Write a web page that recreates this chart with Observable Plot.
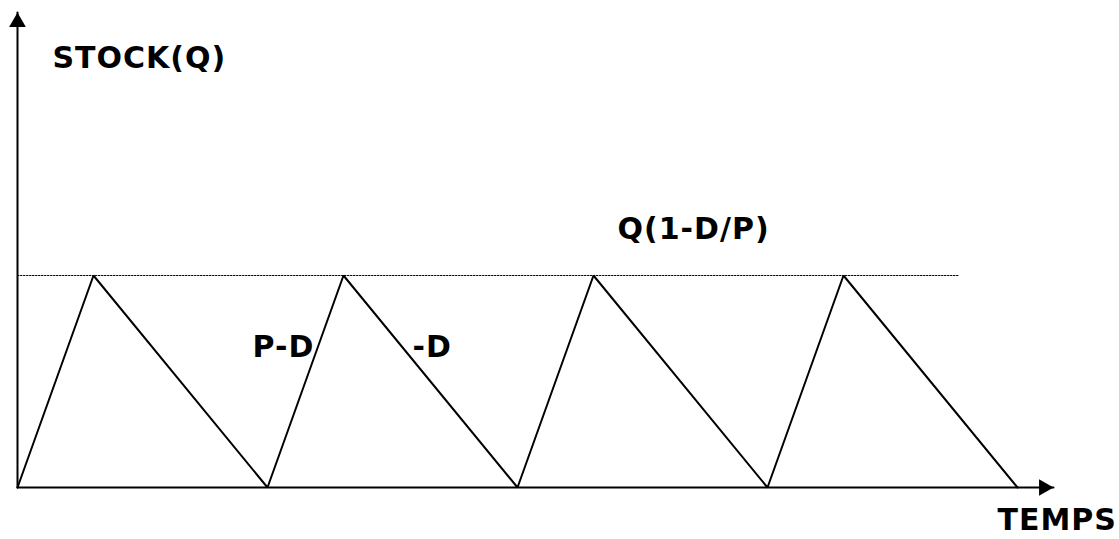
<!DOCTYPE html>
<html>
<head>
<meta charset="utf-8">
<script src="https://cdn.jsdelivr.net/npm/d3@7"></script>
<script src="https://cdn.jsdelivr.net/npm/@observablehq/plot@0.6"></script>
<style>
  html, body { margin: 0; padding: 0; background: #fff; }
  svg { display: block; }
  svg text { letter-spacing: 1px; }
</style>
</head>
<body>
<div id="chart"></div>
<script>
// Sawtooth stock profile (time in cycles, stock relative to Q(1-D/P))
const time  = [0, 0.304, 1, 1.304, 2, 2.304, 3, 3.304, 4];
const stock = [0, 1,     0, 1,     0, 1,     0, 1,     0];
// Max stock level (dotted reference)
const maxLevelTime = [0, 3.764];
const maxLevel = 1;
// Axis extents
const xAxisEnd = 4.144;
const yAxisEnd = 2.24;
// Labels
const labelText = ["STOCK(Q)", "TEMPS", "Q(1-D/P)", "P-D", "-D"];
const labelX    = [0.14, 3.92, 2.4, 0.94, 1.58];
const labelY    = [1.98, -0.2, 1.17, 0.614, 0.614];

const profile = time.map((t, i) => ({t, q: stock[i]}));
const labels = labelText.map((s, i) => ({s, x: labelX[i], y: labelY[i]}));

const chart = Plot.plot({
  width: 1119,
  height: 539,
  margin: 0,
  style: {background: "#fff", fontFamily: "Verdana, 'DejaVu Sans', sans-serif"},
  x: {domain: [0, 4], range: [17, 1017], axis: null},
  y: {domain: [0, 1], range: [487, 275], axis: null},
  marks: [
    Plot.line(maxLevelTime.map(t => ({t, q: maxLevel})), {x: "t", y: "q", stroke: "#000", strokeWidth: 1, strokeDasharray: "1.5,1.5"}),
    Plot.line([{t: 0, q: 0}, {t: xAxisEnd, q: 0}], {x: "t", y: "q", stroke: "#000", strokeWidth: 2}),
    Plot.line([{t: 0, q: 0}, {t: 0, q: yAxisEnd}], {x: "t", y: "q", stroke: "#000", strokeWidth: 2}),
    Plot.dot([{t: 0, q: yAxisEnd}], {x: "t", y: "q", symbol: "triangle", r: 6.2, fill: "#000", stroke: "none", dy: 9.6}),
    Plot.dot([{t: xAxisEnd, q: 0}], {x: "t", y: "q", symbol: "triangle", r: 6.2, fill: "#000", stroke: "none", rotate: 90, dx: -9.6}),
    Plot.line(profile, {x: "t", y: "q", stroke: "#000", strokeWidth: 2, strokeLinejoin: "miter"}),
    Plot.text(labels, {x: "x", y: "y", text: "s", textAnchor: "start", lineAnchor: "bottom", fontSize: 30, fontWeight: "bold", fill: "#000"})
  ]
});
document.getElementById("chart").appendChild(chart);
</script>
</body>
</html>
